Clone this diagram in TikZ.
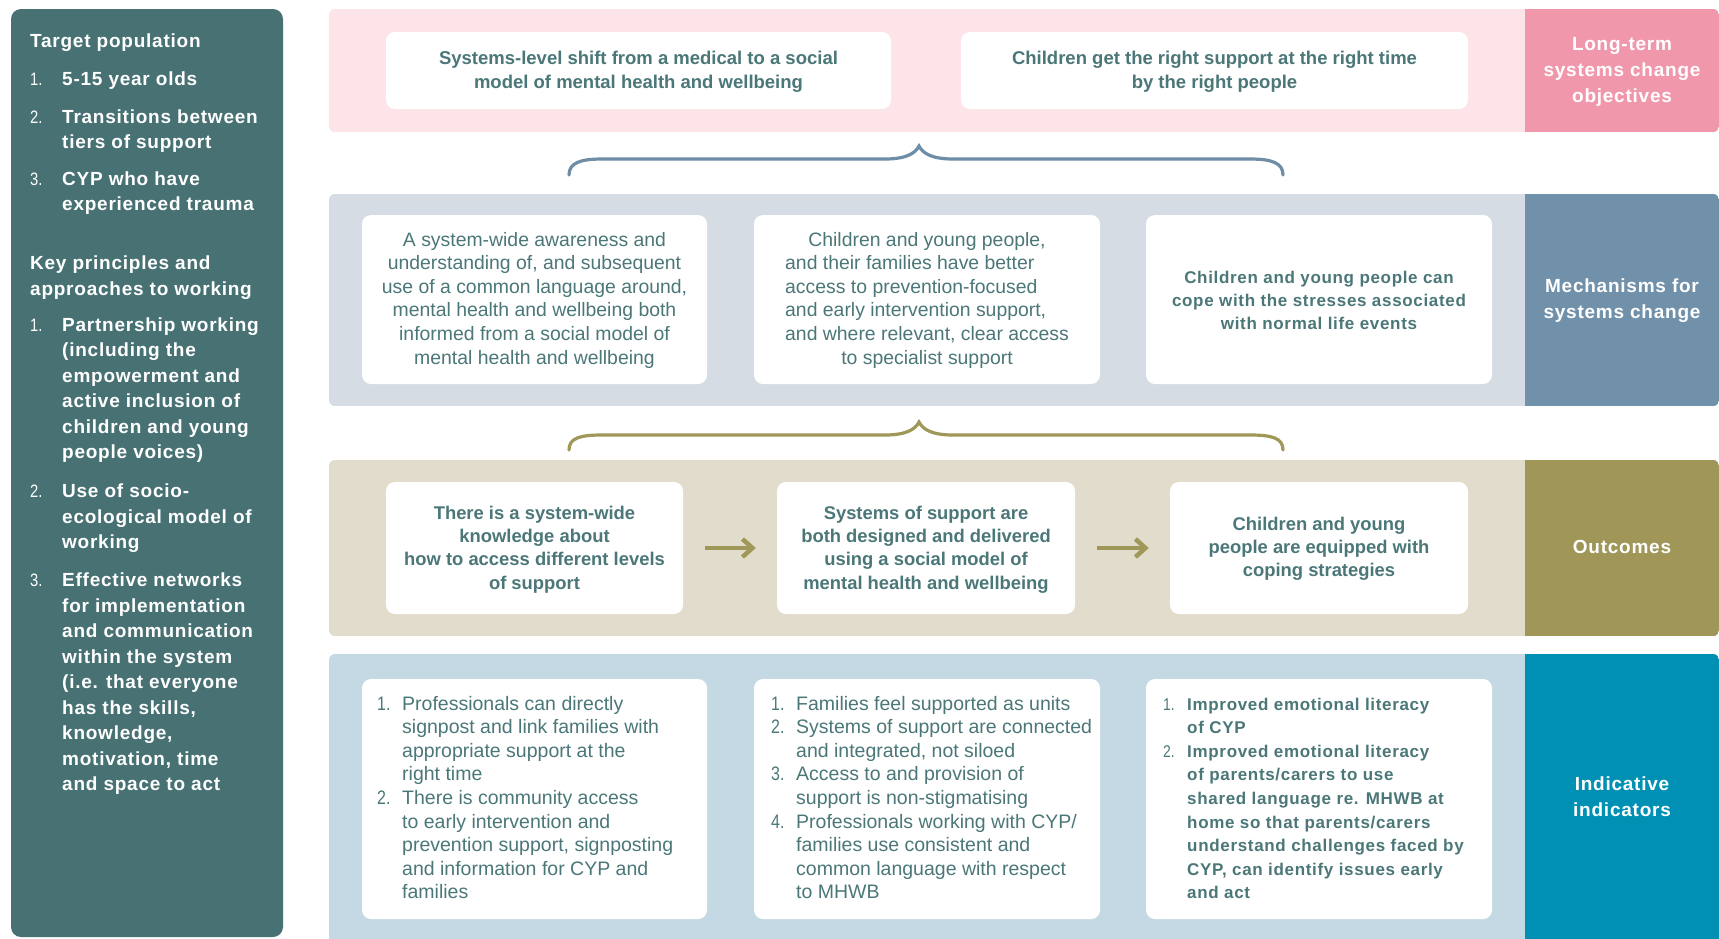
\documentclass[tikz,border=0pt]{standalone}
\usepackage{fontspec}
\setmainfont{Liberation Sans}
\newfontfamily\spaced{Liberation Sans}[LetterSpace=4]
\newfontfamily\narrow{Liberation Sans}[FakeStretch=0.82]
\usetikzlibrary{arrows.meta}
\definecolor{panel}{HTML}{477173}
\definecolor{bgA}{HTML}{FCE4E8}
\definecolor{labA}{HTML}{F197AB}
\definecolor{bgB}{HTML}{D6DCE3}
\definecolor{labB}{HTML}{7191AA}
\definecolor{bgC}{HTML}{E1DCCB}
\definecolor{labC}{HTML}{9F9658}
\definecolor{bgD}{HTML}{C4D9E4}
\definecolor{labD}{HTML}{0090B4}
\definecolor{txt}{HTML}{4B7778}
\definecolor{braceA}{HTML}{6E8DA6}
\definecolor{braceB}{HTML}{A09858}
\newcommand\numlbl[2]{\makebox[#1][l]{\narrow\mdseries #2}}
\newcommand\mytabc[1]{\begin{tabular}[t]{@{}c@{}}#1\end{tabular}}
\newcommand\mytabl[1]{\begin{tabular}[t]{@{}l@{}l@{}}#1\end{tabular}}
\begin{document}
\begin{tikzpicture}[x=1pt,y=-1pt,
  wbox/.style={fill=white, rounded corners=9pt, inner sep=0pt, draw=none},
  lbl/.style={text=white, font=\spaced\bfseries\fontsize{19}{26}\selectfont, inner sep=0pt, anchor=base},
  tA/.style={text=txt, font=\bfseries\fontsize{18.5}{24}\selectfont, inner sep=0pt, anchor=base},
  tB/.style={text=txt, font=\fontsize{19.4}{23.6}\selectfont, inner sep=0pt, anchor=base},
  tBs/.style={text=txt, font=\spaced\bfseries\fontsize{17}{23}\selectfont, inner sep=0pt, anchor=base},
  tC/.style={text=txt, font=\bfseries\fontsize{18.4}{23.4}\selectfont, inner sep=0pt, anchor=base},
  tD/.style={text=txt, font=\fontsize{19.5}{23.6}\selectfont, inner sep=0pt, anchor=base west},
  tDs/.style={text=txt, font=\spaced\bfseries\fontsize{17}{23.6}\selectfont, inner sep=0pt, anchor=base west},
  brc/.style={line width=3.2pt, line cap=round},
  arr/.style={-{Straight Barb[length=10pt,width=18pt]}, line width=4.5pt, draw=braceB, shorten <=22pt, shorten >=21pt}
]
\fill[white] (0,0) rectangle (1719,938);
\useasboundingbox (0,0) rectangle (1719,938);

% left panel
\fill[panel, rounded corners=10pt] (11,9) rectangle (283,937);
\node[anchor=base west, inner sep=0pt, text=white, font=\spaced\bfseries\fontsize{19}{25.5}\selectfont] (lp) at (30,47) {\mytabl{%
\multicolumn{2}{@{}l@{}}{Target population}\\[12.5pt]
\numlbl{32pt}{\fontsize{18}{20}\selectfont 1.} & 5-15 year olds\\[12.5pt]
\numlbl{32pt}{\fontsize{18}{20}\selectfont 2.} & Transitions between\\
 & tiers of support\\[11pt]
\numlbl{32pt}{\fontsize{18}{20}\selectfont 3.} & CYP who have\\
 & experienced trauma\\[33.5pt]
\multicolumn{2}{@{}l@{}}{Key principles and}\\
\multicolumn{2}{@{}l@{}}{approaches to working}\\[10.5pt]
\numlbl{32pt}{\fontsize{18}{20}\selectfont 1.} & Partnership working\\
 & (including the\\
 & empowerment and\\
 & active inclusion of\\
 & children and young\\
 & people voices)\\[13.5pt]
\numlbl{32pt}{\fontsize{18}{20}\selectfont 2.} & Use of socio-\\
 & ecological model of\\
 & working\\[12.5pt]
\numlbl{32pt}{\fontsize{18}{20}\selectfont 3.} & Effective networks\\
 & for implementation\\
 & and communication\\
 & within the system\\
 & (i.e. that everyone\\
 & has the skills,\\
 & knowledge,\\
 & motivation, time\\
 & and space to act}};

% row backgrounds with labels
\begin{scope}
\clip[rounded corners=6pt] (329,9) rectangle (1719,132);
\fill[bgA] (329,9) rectangle (1719,132);
\fill[labA] (1525,9) rectangle (1719,132);
\end{scope}
\begin{scope}
\clip[rounded corners=6pt] (329,194) rectangle (1719,406);
\fill[bgB] (329,194) rectangle (1719,406);
\fill[labB] (1525,194) rectangle (1719,406);
\end{scope}
\begin{scope}
\clip[rounded corners=6pt] (329,460) rectangle (1719,636);
\fill[bgC] (329,460) rectangle (1719,636);
\fill[labC] (1525,460) rectangle (1719,636);
\end{scope}
\begin{scope}
\clip[rounded corners=6pt] (329,654) rectangle (1719,950);
\fill[bgD] (329,654) rectangle (1719,950);
\fill[labD] (1525,654) rectangle (1719,950);
\end{scope}

% labels
\node[lbl] (la) at (1622,50) {\mytabc{Long-term\\systems change\\objectives}};
\node[lbl] (lb) at (1622,292) {\mytabc{Mechanisms for\\systems change}};
\node[lbl] (lc) at (1622,553) {\mytabc{Outcomes}};
\node[lbl] (ld) at (1622,790) {\mytabc{Indicative\\indicators}};

% row 1 boxes
\node[wbox, minimum width=505pt, minimum height=77pt] (a1) at (638.5,70.5) {};
\node[wbox, minimum width=507pt, minimum height=77pt] (a2) at (1214.5,70.5) {};
\node[tA] (a1t) at (638.5,64) {\mytabc{Systems-level shift from a medical to a social\\model of mental health and wellbeing}};
\node[tA] (a2t) at (1214.5,64) {\mytabc{Children get the right support at the right time\\by the right people}};

% brace 1
\draw[brc, draw=braceA] (569,175) .. controls (569,163) and (580,159) .. (602,159) -- (885,159) .. controls (905,159) and (915,154) .. (919,146) .. controls (923,154) and (933,159) .. (953,159) -- (1250,159) .. controls (1272,159) and (1283,163) .. (1283,175);

% row 2 boxes
\node[wbox, minimum width=345pt, minimum height=169pt] (b1) at (534.5,299.5) {};
\node[wbox, minimum width=346pt, minimum height=169pt] (b2) at (927,299.5) {};
\node[wbox, minimum width=346pt, minimum height=169pt] (b3) at (1319,299.5) {};
\node[tB] (b1t) at (534.5,246) {\mytabc{A system-wide awareness and\\understanding of, and subsequent\\use of a common language around,\\mental health and wellbeing both\\informed from a social model of\\mental health and wellbeing}};
\node[tB] (b2t) at (927,246) {\begin{tabular}[t]{@{}l@{}}\multicolumn{1}{@{}c@{}}{Children and young people,}\\and their families have better\\access to prevention-focused\\and early intervention support,\\and where relevant, clear access\\\multicolumn{1}{@{}c@{}}{to specialist support}\end{tabular}};
\node[tBs] (b3t) at (1319,283) {\mytabc{Children and young people can\\cope with the stresses associated\\with normal life events}};

% brace 2
\draw[brc, draw=braceB] (569,450) .. controls (569,438) and (580,435) .. (602,435) -- (885,435) .. controls (905,435) and (915,430) .. (919,422) .. controls (923,430) and (933,435) .. (953,435) -- (1250,435) .. controls (1272,435) and (1283,438) .. (1283,450);

% row 3 boxes
\node[wbox, minimum width=297pt, minimum height=132pt] (c1) at (534.5,548) {};
\node[wbox, minimum width=298pt, minimum height=132pt] (c2) at (926,548) {};
\node[wbox, minimum width=298pt, minimum height=132pt] (c3) at (1319,548) {};
\node[tC] (c1t) at (534.5,519) {\mytabc{There is a system-wide\\knowledge about\\how to access different levels\\of support}};
\node[tC] (c2t) at (926,519) {\mytabc{Systems of support are\\both designed and delivered\\using a social model of\\mental health and wellbeing}};
\node[tC] (c3t) at (1319,530) {\mytabc{Children and young\\people are equipped with\\coping strategies}};
\draw[arr] (c1.east) -- (c2.west);
\draw[arr] (c2.east) -- (c3.west);

% row 4 boxes
\node[wbox, minimum width=345pt, minimum height=240pt] (d1) at (534.5,799) {};
\node[wbox, minimum width=346pt, minimum height=240pt] (d2) at (927,799) {};
\node[wbox, minimum width=346pt, minimum height=240pt] (d3) at (1319,799) {};
\node[tD] (d1t) at (377,710) {\mytabl{%
\numlbl{25pt}{1.} & Professionals can directly\\
 & signpost and link families with\\
 & appropriate support at the\\
 & right time\\
\numlbl{25pt}{2.} & There is community access\\
 & to early intervention and\\
 & prevention support, signposting\\
 & and information for CYP and\\
 & families}};
\node[tD] (d2t) at (771,710) {\mytabl{%
\numlbl{25pt}{1.} & Families feel supported as units\\
\numlbl{25pt}{2.} & Systems of support are connected\\
 & and integrated, not siloed\\
\numlbl{25pt}{3.} & Access to and provision of\\
 & support is non-stigmatising\\
\numlbl{25pt}{4.} & Professionals working with CYP/\\
 & families use consistent and\\
 & common language with respect\\
 & to MHWB}};
\node[tDs] (d3t) at (1163,710) {\mytabl{%
\numlbl{24pt}{1.} & Improved emotional literacy\\
 & of CYP\\
\numlbl{24pt}{2.} & Improved emotional literacy\\
 & of parents/carers to use\\
 & shared language re. MHWB at\\
 & home so that parents/carers\\
 & understand challenges faced by\\
 & CYP, can identify issues early\\
 & and act}};
\end{tikzpicture}
\end{document}
